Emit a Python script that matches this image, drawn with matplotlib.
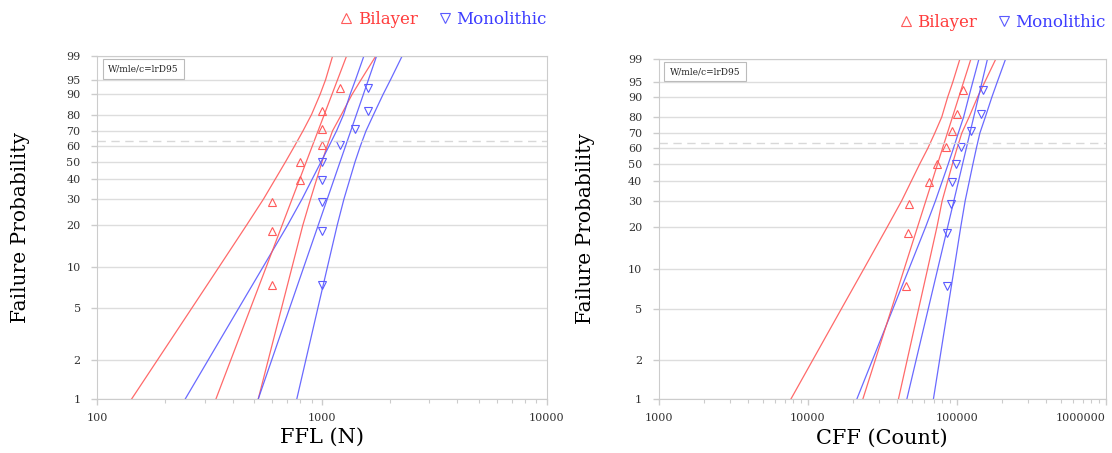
import numpy as np
import matplotlib.pyplot as plt
from matplotlib.lines import Line2D
from matplotlib.ticker import FixedLocator, FuncFormatter, LogLocator, NullFormatter

plt.rcParams['font.family'] = ['DejaVu Serif']

# median ranks of the 9 specimens (%)
ranks = [7.4, 18.1, 28.7, 39.4, 50.0, 60.6, 71.3, 81.9, 92.6]

# first fracture load (N)
ffl_bilayer = [600, 600, 600, 800, 800, 1000, 1000, 1000, 1200]
ffl_mono = [1000, 1000, 1000, 1000, 1000, 1200, 1400, 1600, 1600]

# cycles to first fracture
cff_bilayer = [45500, 47300, 47900, 65500, 74100, 84700, 92900, 100000, 110700]
cff_mono = [85700, 86500, 91100, 93300, 98900, 106900, 124800, 144900, 149500]

# Weibull fit lines (read at 1% and 99%)
fit_prob = [1, 99]
ffl_bilayer_fit = [337, 1288]
ffl_mono_fit = [520, 1752]
cff_bilayer_fit = [23400, 124700]
cff_mono_fit = [46200, 161000]

# 95% likelihood ratio bounds, read at these probabilities
bound_prob = [1, 5, 10, 20, 30, 50, 60, 70, 80, 90, 95, 99]
ffl_bilayer_lo = [142, 264, 347, 461, 549, 688, 754, 823, 898, 980, 1037, 1116]
ffl_bilayer_hi = [520, 661, 735, 821, 889, 1000, 1053, 1114, 1220, 1360, 1492, 1740]
ffl_mono_lo = [246, 427, 545, 702, 815, 990, 1074, 1161, 1247, 1333, 1410, 1538]
ffl_mono_hi = [772, 959, 1056, 1168, 1252, 1403, 1481, 1570, 1696, 1869, 2018, 2278]
cff_bilayer_lo = [7690, 16840, 23840, 34180, 42680, 56460, 63900, 71170, 79300, 86890, 93870, 105220]
cff_bilayer_hi = [40560, 55500, 63780, 73640, 79800, 93570, 100400, 108060, 121000, 137900, 153700, 183500]
cff_mono_lo = [21320, 37310, 47850, 61830, 71950, 87700, 95000, 102350, 111200, 120370, 127850, 141160]
cff_mono_hi = [69660, 87020, 96070, 106370, 113860, 128450, 135300, 142890, 155500, 172050, 186460, 213260]

prob_ticks = [1, 2, 5, 10, 20, 30, 40, 50, 60, 70, 80, 90, 95, 99]

RED = '#ff5a5a'
BLUE = '#5a5aff'


def weibull_fwd(p):
    p = np.clip(np.asarray(p, dtype=float), 1e-6, 100 - 1e-6)
    return np.log(-np.log(1 - p / 100.0))


def weibull_inv(t):
    return 100.0 * (1 - np.exp(-np.exp(t)))


def draw_panel(ax, xlim, xlabel, ylab_x, bil, mono, bil_fit, mono_fit, bil_lo, bil_hi, mono_lo, mono_hi):
    ax.set_xscale('log')
    ax.set_yscale('function', functions=(weibull_fwd, weibull_inv))
    ax.set_xlim(*xlim)
    ax.set_ylim(1, 99)

    # bounds and fit
    for xs, c in [(bil_lo, RED), (bil_hi, RED), (mono_lo, BLUE), (mono_hi, BLUE)]:
        ax.plot(xs, bound_prob, color=c, lw=0.9, alpha=0.9)
    ax.plot(bil_fit, fit_prob, color=RED, lw=0.9, alpha=0.9)
    ax.plot(mono_fit, fit_prob, color=BLUE, lw=0.9, alpha=0.9)

    # data points
    ax.plot(bil, ranks, ls='none', marker='^', ms=6, mfc='none', mec=RED, mew=0.8)
    ax.plot(mono, ranks, ls='none', marker='v', ms=6, mfc='none', mec=BLUE, mew=0.8)

    # 63.2% line
    ax.axhline(63.2, color='#d8d8d8', lw=1.0, ls=(0, (6, 4)))

    ax.yaxis.set_major_locator(FixedLocator(prob_ticks))
    ax.yaxis.set_minor_locator(FixedLocator([]))
    ax.yaxis.set_major_formatter(FuncFormatter(lambda v, _: f'{v:.0f}'))
    ax.xaxis.set_major_locator(LogLocator(base=10))
    ax.xaxis.set_minor_locator(LogLocator(base=10, subs=np.arange(2, 10)))
    ax.xaxis.set_major_formatter(FuncFormatter(lambda v, _: f'{v:.0f}'))
    ax.xaxis.set_minor_formatter(NullFormatter())

    ax.yaxis.grid(True, color='#dddddd', lw=1.0)
    ax.set_axisbelow(True)
    for s in ax.spines.values():
        s.set_color('#cccccc')
    ax.tick_params(axis='both', which='major', direction='out', length=4, width=1,
                   color='#cccccc', labelcolor='#333333', labelsize=8)
    ax.tick_params(axis='x', which='minor', direction='out', length=3, width=0.8, color='#cccccc')
    ax.tick_params(axis='x', which='major', pad=6)
    ax.tick_params(axis='y', which='major', pad=8)

    ax.set_xlabel(xlabel, fontsize=15)
    ax.set_ylabel('Failure Probability', fontsize=14.5)
    ax.xaxis.set_label_coords(0.5, -0.085)
    ax.yaxis.set_label_coords(ylab_x, 0.5)

    ax.text(0.024, 0.975, 'W/mle/c=lrD95', transform=ax.transAxes, fontsize=6.5,
            va='top', ha='left', color='#222222',
            bbox=dict(boxstyle='square,pad=0.6', fc='white', ec='#bbbbbb', lw=0.8))

    handles = [Line2D([], [], ls='none', marker='^', ms=7, mfc='none', mec=RED, mew=0.8),
               Line2D([], [], ls='none', marker='v', ms=7, mfc='none', mec=BLUE, mew=0.8)]
    leg = ax.legend(handles, ['Bilayer', 'Monolithic'], loc='center right',
                    bbox_to_anchor=(1.0, 1.105), ncol=2, frameon=False, fontsize=12,
                    handlelength=0.8, handletextpad=0.3, columnspacing=1.2,
                    borderaxespad=0, borderpad=0)
    for txt, c in zip(leg.get_texts(), ['#ff3c3c', '#3c3cff']):
        txt.set_color(c)


fig = plt.figure(figsize=(11.12, 4.53), dpi=100)
ax1 = fig.add_axes([0.0876, 0.1192, 0.404, 0.758])
ax2 = fig.add_axes([0.5924, 0.1185, 0.402, 0.7523])

draw_panel(ax1, (100, 10000), 'FFL (N)', -0.15, ffl_bilayer, ffl_mono, ffl_bilayer_fit, ffl_mono_fit,
           ffl_bilayer_lo, ffl_bilayer_hi, ffl_mono_lo, ffl_mono_hi)
draw_panel(ax2, (1000, 1000000), 'CFF (Count)', -0.1425, cff_bilayer, cff_mono, cff_bilayer_fit, cff_mono_fit,
           cff_bilayer_lo, cff_bilayer_hi, cff_mono_lo, cff_mono_hi)

# keep the last tick label of the right panel inside the figure
fig.canvas.draw()
for lab in ax2.get_xticklabels():
    if lab.get_text() == '1000000':
        lab.set_horizontalalignment('right')

fig.savefig('out.png', dpi=100)
